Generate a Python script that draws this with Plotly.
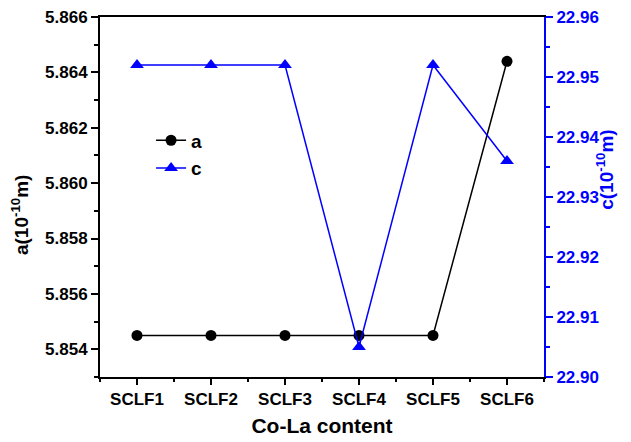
import plotly.graph_objects as go

categories = ["SCLF1", "SCLF2", "SCLF3", "SCLF4", "SCLF5", "SCLF6"]
a_values = [5.8545, 5.8545, 5.8545, 5.8545, 5.8545, 5.8644]
c_values = [22.952, 22.952, 22.952, 22.905, 22.952, 22.936]

xpos = list(range(1, len(categories) + 1))
FONT = "Liberation Sans, Arial, sans-serif"
BLUE = "#0000ff"

fig = go.Figure()
fig.add_trace(go.Scatter(
    x=xpos, y=a_values, name="a", mode="lines+markers",
    line=dict(color="black", width=1.5),
    marker=dict(symbol="circle", size=11, color="black"),
    yaxis="y",
))
fig.add_trace(go.Scatter(
    x=xpos, y=c_values, name="c", mode="lines+markers",
    line=dict(color=BLUE, width=1.5),
    marker=dict(symbol="triangle-up", size=12, color=BLUE),
    yaxis="y2",
))

tickfont = dict(family=FONT, size=17, color="black", weight="bold")

fig.update_layout(
    width=631, height=442,
    margin=dict(l=100, r=87, t=17, b=65),
    plot_bgcolor="white", paper_bgcolor="white",
    font=dict(family=FONT),
    showlegend=True,
    legend=dict(
        x=0.115, y=0.71, xanchor="left", yanchor="top",
        bgcolor="rgba(0,0,0,0)",
        font=dict(family=FONT, size=19, color="black", weight="bold"),
        tracegroupgap=0, itemwidth=30,
    ),
    xaxis=dict(
        range=[0.5, 6.5], tickvals=xpos, ticktext=categories,
        showline=True, linecolor="black", linewidth=2, mirror=True,
        ticks="outside", ticklen=6, tickwidth=1.5, tickcolor="black",
        showgrid=False, zeroline=False, automargin=False,
        tickfont=tickfont,
        minor=dict(tick0=0.5, dtick=1, ticks="outside", ticklen=3,
                   tickwidth=1.5, tickcolor="black", showgrid=False),
        title=dict(text="Co-La content",
                   font=dict(family=FONT, size=21, color="black", weight="bold"),
                   standoff=10),
    ),
    yaxis=dict(
        range=[5.853, 5.866], tick0=5.854, dtick=0.002, tickformat=".3f",
        showline=True, linecolor="black", linewidth=2,
        ticks="outside", ticklen=7, tickwidth=1.5, tickcolor="black",
        showgrid=False, zeroline=False, automargin=False,
        tickfont=tickfont,
        minor=dict(tick0=5.853, dtick=0.001, ticks="outside", ticklen=4,
                   tickwidth=1.5, tickcolor="black", showgrid=False),
    ),
    yaxis2=dict(
        range=[22.90, 22.96], dtick=0.01, tick0=22.90, tickformat=".2f",
        overlaying="y", side="right",
        showline=True, linecolor=BLUE, linewidth=2,
        ticks="outside", ticklen=7, tickwidth=1.5, tickcolor=BLUE,
        showgrid=False, zeroline=False, automargin=False,
        tickfont=dict(family=FONT, size=17, color=BLUE, weight="bold"),
        minor=dict(tick0=22.905, dtick=0.01, ticks="outside", ticklen=4,
                   tickwidth=1.5, tickcolor=BLUE, showgrid=False),
    ),
    annotations=[
        dict(text="a(10<sup>-10</sup>m)", textangle=-90,
             xref="paper", yref="paper", x=-0.18, y=0.45,
             xanchor="center", yanchor="middle", showarrow=False,
             font=dict(family=FONT, size=19, color="black", weight="bold")),
        dict(text="c(10<sup>-10</sup>m)", textangle=-90,
             xref="paper", yref="paper", x=1.137, y=0.575,
             xanchor="center", yanchor="middle", showarrow=False,
             font=dict(family=FONT, size=19, color=BLUE, weight="bold")),
    ],
)

fig.write_html("out.html")
